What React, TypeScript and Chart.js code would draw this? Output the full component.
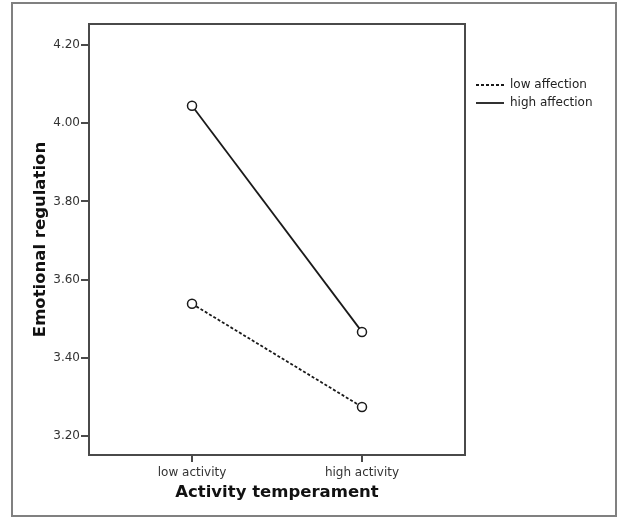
import React, { useEffect, useRef } from "react";
import { Chart, registerables } from "chart.js";

Chart.register(...registerables);

const categories = ["low activity", "high activity"];
const seriesNames = ["low affection", "high affection"];
const lowAffection = [3.538, 3.274];
const highAffection = [4.045, 3.466];
const yTicks = [3.2, 3.4, 3.6, 3.8, 4.0, 4.2];
const yMin = 3.151;
const yMax = 4.254;
const xMin = -0.606;
const xMax = 1.606;

const FONT = "'DejaVu Sans', sans-serif";
const AXIS = "#4a4a4a";

const framePlugin = {
  id: "frame",
  beforeDatasetsDraw(chart: any) {
    const { ctx, chartArea } = chart;
    ctx.save();
    ctx.strokeStyle = AXIS;
    ctx.lineWidth = 2;
    ctx.strokeRect(chartArea.left, chartArea.top, chartArea.right - chartArea.left, chartArea.bottom - chartArea.top);
    ctx.restore();
  },
};

const legendPlugin = {
  id: "customLegend",
  afterDraw(chart: any) {
    const { ctx, chartArea } = chart;
    const x0 = chartArea.right + 11;
    let y = chartArea.top + 61;
    ctx.save();
    chart.data.datasets.forEach((ds: any) => {
      ctx.beginPath();
      ctx.strokeStyle = ds.borderColor;
      ctx.lineWidth = ds.borderWidth;
      ctx.setLineDash(ds.borderDash && ds.borderDash.length ? [3, 2] : []);
      ctx.moveTo(x0, y);
      ctx.lineTo(x0 + 28, y);
      ctx.stroke();
      ctx.setLineDash([]);
      ctx.fillStyle = "#222";
      ctx.font = `12px ${FONT}`;
      ctx.textBaseline = "middle";
      ctx.textAlign = "left";
      ctx.fillText(ds.label, x0 + 34, y);
      y += 18;
    });
    ctx.restore();
  },
};

export default function App() {
  const ref = useRef<HTMLCanvasElement>(null);
  useEffect(() => {
    document.body.style.margin = "0";
    const toPts = (vals: number[]) => vals.map((v, i) => ({ x: i, y: v }));
    const mk = (label: string, vals: number[], dash: number[]) => ({
      label,
      data: toPts(vals),
      borderColor: "#1a1a1a",
      borderWidth: 1.8,
      borderDash: dash,
      pointRadius: 4.5,
      pointBackgroundColor: "#fff",
      pointBorderColor: "#1a1a1a",
      pointBorderWidth: 1.5,
      showLine: true,
      fill: false,
    });
    const chart = new Chart(ref.current!, {
      type: "scatter",
      data: {
        datasets: [mk(seriesNames[0], lowAffection, [3, 2]), mk(seriesNames[1], highAffection, [])],
      },
      options: {
        animation: false,
        responsive: false,
        layout: { padding: { top: 24, right: 153, bottom: 0, left: 0 } },
        plugins: { legend: { display: false }, tooltip: { enabled: false } },
        scales: {
          x: {
            type: "linear",
            min: xMin,
            max: xMax,
            afterBuildTicks: (s: any) => {
              s.ticks = categories.map((_, i) => ({ value: i }));
            },
            afterFit: (s: any) => {
              s.height = 62;
            },
            ticks: {
              callback: (v: any) => categories[v] ?? "",
              color: "#333",
              font: { family: FONT, size: 12 },
              padding: 4,
              maxRotation: 0,
              autoSkip: false,
            },
            grid: { drawOnChartArea: false, drawTicks: true, tickLength: 7, color: AXIS, lineWidth: 2 },
            border: { display: true, color: AXIS, width: 2 },
            title: {
              display: true,
              text: "Activity temperament",
              color: "#111",
              font: { family: FONT, size: 16.5, weight: "bold" },
              padding: { top: 0, bottom: 14 },
            },
          },
          y: {
            type: "linear",
            min: yMin,
            max: yMax,
            afterBuildTicks: (s: any) => {
              s.ticks = yTicks.map((v) => ({ value: v }));
            },
            afterFit: (s: any) => {
              s.width = 89;
            },
            ticks: {
              callback: (v: any) => Number(v).toFixed(2),
              color: "#333",
              font: { family: FONT, size: 12 },
              padding: 1,
            },
            grid: { drawOnChartArea: false, drawTicks: true, tickLength: 8, color: AXIS, lineWidth: 2 },
            border: { display: true, color: AXIS, width: 2 },
            title: {
              display: true,
              text: "Emotional regulation",
              color: "#111",
              font: { family: FONT, size: 16.5, weight: "bold" },
              padding: { top: 31, bottom: 0 },
            },
          },
        },
      } as any,
      plugins: [framePlugin, legendPlugin],
    });
    return () => chart.destroy();
  }, []);
  return (
    <div style={{ position: "relative", width: 618, height: 517, background: "#fff" }}>
      <canvas ref={ref} width={618} height={517} style={{ display: "block" }} />
      <div
        style={{
          position: "absolute",
          left: 11,
          top: 2,
          width: 606,
          height: 515,
          border: "2px solid #808080",
          boxSizing: "border-box",
          pointerEvents: "none",
        }}
      />
    </div>
  );
}
